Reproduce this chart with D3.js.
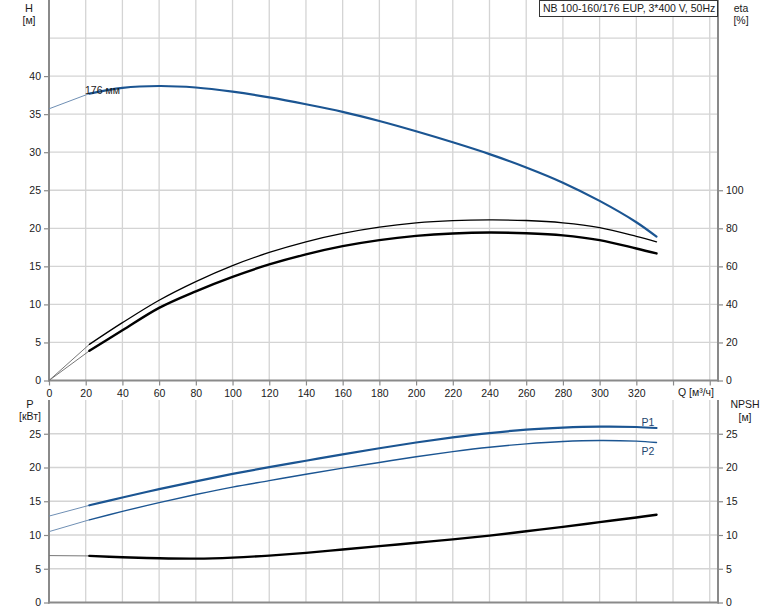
<!DOCTYPE html>
<html><head><meta charset="utf-8">
<script src="https://cdn.jsdelivr.net/npm/d3@7"></script>
<style>
html,body{margin:0;padding:0;background:#fff;}
svg{display:block;font-family:"Liberation Sans",Arial,sans-serif;}
</style></head>
<body><svg id="c" width="774" height="611"></svg>
<script>
// ---- data ----
const Q      = [0, 22, 40, 60, 80, 100, 120, 140, 160, 180, 200, 220, 240, 260, 280, 300, 320, 331];
const H      = [35.7, 37.7, 38.45, 38.7, 38.5, 37.95, 37.2, 36.3, 35.3, 34.1, 32.75, 31.3, 29.75, 28.0, 26.0, 23.6, 20.8, 18.9];
const etaP   = [0, 19.0, 30.4, 42.2, 52.0, 60.4, 67.3, 72.9, 77.3, 80.6, 82.8, 84.0, 84.4, 84.1, 82.9, 80.4, 75.8, 72.9];
const etaT   = [0, 15.6, 26.4, 38.2, 46.9, 54.5, 61.0, 66.3, 70.6, 73.8, 76.0, 77.3, 77.8, 77.4, 76.3, 73.8, 69.4, 66.8];
const P1     = [12.8, 14.4, 15.55, 16.8, 17.95, 19.05, 20.05, 21.0, 21.95, 22.85, 23.7, 24.45, 25.1, 25.6, 25.9, 26.05, 26.0, 25.85];
const P2     = [10.5, 12.25, 13.5, 14.8, 16.0, 17.1, 18.05, 19.0, 19.9, 20.75, 21.6, 22.35, 23.0, 23.5, 23.85, 24.0, 23.9, 23.7];
const NPSH   = [6.95, 6.9, 6.7, 6.55, 6.5, 6.65, 6.95, 7.35, 7.85, 8.35, 8.85, 9.35, 9.9, 10.55, 11.2, 11.9, 12.6, 13.0];
const qStart = 22;
const qTicks = [0,20,40,60,80,100,120,140,160,180,200,220,240,260,280,300,320];
const qGrid  = [20,40,60,80,100,120,140,160,180,200,220,240,260,280,300,320,340,360];
const hTicks = [0,5,10,15,20,25,30,35,40];
const hGrid  = [5,10,15,20,25,30,35,40,45];
const etaTicks = [0,20,40,60,80,100];
const pTicks = [0,5,10,15,20,25];
const npshTicks = [0,5,10,15,20,25];
const title = "NB 100-160/176 EUP, 3*400 V, 50Hz";
const curveLabel = "176 мм";

// ---- layout ----
const svg = d3.select("#c");
const L = 49, R = 718;
const topT = 0, topB = 380.5, botT = 400, botB = 602.5;
const x = d3.scaleLinear().domain([0, 364.5]).range([L, R]);
const yH = d3.scaleLinear().domain([0, 50]).range([topB, topT]);
const yEta = d3.scaleLinear().domain([0, 200]).range([topB, topT]);
const yP = d3.scaleLinear().domain([0, 30]).range([botB, botT]);
const yN = yP.copy();

const gridC = "#d4d4d4", axisC = "#8a8a8a", txtC = "#1a1a1a";
const blue = "#1b5592", blueThin = "#6f8fb4";

// grids
const g = svg.append("g");
qGrid.forEach(q => {
  g.append("line").attr("x1", x(q)).attr("x2", x(q)).attr("y1", topT).attr("y2", topB)
    .attr("stroke", gridC).attr("stroke-width", 1.3);
  g.append("line").attr("x1", x(q)).attr("x2", x(q)).attr("y1", botT).attr("y2", botB)
    .attr("stroke", gridC).attr("stroke-width", 1.3);
});
hGrid.forEach(h => g.append("line").attr("x1", L).attr("x2", R).attr("y1", yH(h)).attr("y2", yH(h))
  .attr("stroke", gridC).attr("stroke-width", 1.3));
pTicks.filter(d => d > 0).forEach(p => g.append("line").attr("x1", L).attr("x2", R).attr("y1", yP(p)).attr("y2", yP(p))
  .attr("stroke", gridC).attr("stroke-width", 1.3));

// axes
function axisG(axis, tx, ty) {
  const a = svg.append("g").attr("transform", `translate(${tx},${ty})`).call(axis);
  a.select(".domain").remove();
  a.selectAll(".tick line").attr("stroke", axisC).attr("stroke-width", 1.2);
  a.selectAll(".tick text").attr("fill", txtC).style("font-size", "10.5px")
    .style("font-family", '"Liberation Sans",Arial,sans-serif');
  return a;
}
axisG(d3.axisLeft(yH).tickValues(hTicks).tickSize(5).tickPadding(3), L, 0);
axisG(d3.axisRight(yEta).tickValues(etaTicks).tickSize(5).tickPadding(3), R, 0);
axisG(d3.axisBottom(x).tickValues(qTicks).tickSize(5).tickPadding(4), 0, topB);
axisG(d3.axisBottom(x).tickValues([340, 360]).tickSize(5).tickFormat(""), 0, topB);
axisG(d3.axisLeft(yP).tickValues(pTicks).tickSize(5).tickPadding(3), L, 0);
axisG(d3.axisRight(yN).tickValues(npshTicks).tickSize(5).tickPadding(3), R, 0);

// axis lines
const ax = svg.append("g").attr("stroke", axisC).attr("stroke-width", 2);
ax.append("line").attr("x1", L).attr("x2", L).attr("y1", topT).attr("y2", topB + 1);
ax.append("line").attr("x1", R).attr("x2", R).attr("y1", topT).attr("y2", topB + 1);
ax.append("line").attr("x1", L - 1).attr("x2", R + 1).attr("y1", topB).attr("y2", topB);
ax.append("line").attr("x1", L).attr("x2", L).attr("y1", botT).attr("y2", botB + 1);
ax.append("line").attr("x1", R).attr("x2", R).attr("y1", botT).attr("y2", botB + 1);
ax.append("line").attr("x1", L - 1).attr("x2", R + 1).attr("y1", botB).attr("y2", botB);

// curves
function drawCurve(vals, yS, color, thinColor, w) {
  const pts = Q.map((q, i) => [q, vals[i]]);
  const line = d3.line().x(d => x(d[0])).y(d => yS(d[1])).curve(d3.curveCatmullRom.alpha(0.5));
  svg.append("path").attr("d", line(pts.filter(d => d[0] <= qStart))).attr("fill", "none")
    .attr("stroke", thinColor).attr("stroke-width", 1);
  svg.append("path").attr("d", line(pts.filter(d => d[0] >= qStart))).attr("fill", "none")
    .attr("stroke", color).attr("stroke-width", w).attr("stroke-linecap", "round");
}
drawCurve(H, yH, blue, blueThin, 2.2);
drawCurve(etaP, yEta, "#000", "#777", 1.3);
drawCurve(etaT, yEta, "#000", "#777", 2.4);
drawCurve(P1, yP, blue, blueThin, 2.2);
drawCurve(P2, yP, blue, blueThin, 1.4);
drawCurve(NPSH, yN, "#000", "#777", 2.4);

// texts
function txt(t, xx, yy, anchor, size, color) {
  svg.append("text").attr("x", xx).attr("y", yy).attr("text-anchor", anchor || "start")
    .attr("fill", color || txtC).style("font-size", (size || 10.5) + "px").text(t);
}
txt("H", 29, 12, "middle", 11);
txt("[м]", 29, 24, "middle", 10.5);
txt("eta", 741, 12, "middle", 10.5);
txt("[%]", 741, 24, "middle", 10.5);
txt("P", 30, 408, "middle", 11);
txt("[кВт]", 30, 420, "middle", 10.5);
txt("NPSH", 745, 408, "middle", 10.5);
txt("[м]", 745, 421, "middle", 10.5);
txt("Q [м³/ч]", 696, 396, "middle", 10.5);
txt(curveLabel, 85, 94, "start", 10.5);
txt("P1", 648, 426, "middle", 10.5, "#24466e");
txt("P2", 648, 455, "middle", 10.5, "#24466e");

// title box
svg.append("rect").attr("x", 539.5).attr("y", 0.5).attr("width", 178).attr("height", 16)
  .attr("fill", "#fff").attr("stroke", "#333").attr("stroke-width", 1);
txt(title, 543, 12, "start", 10.5);
</script></body></html>
